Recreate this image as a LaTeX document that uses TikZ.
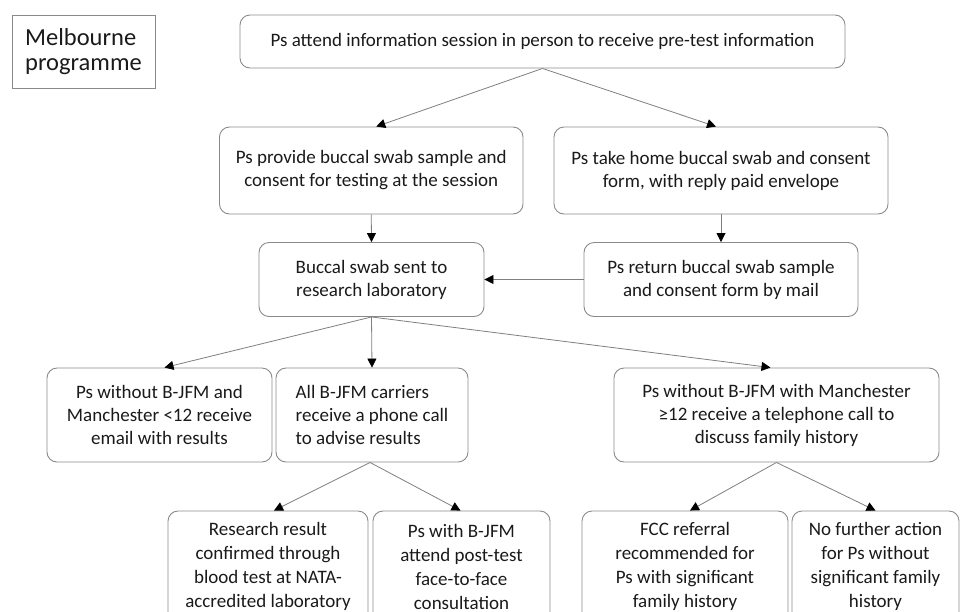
\documentclass[tikz,border=0pt]{standalone}
\usepackage{fontspec}
\setmainfont{Carlito}
\usetikzlibrary{arrows.meta}
\definecolor{bordergray}{HTML}{8A8A8A}
\definecolor{linegray}{HTML}{7F7F7F}
\definecolor{txt}{HTML}{1A1A1A}
\tikzset{
  box/.style={draw=bordergray, line width=0.9pt, rounded corners=10pt, inner sep=0pt,
    align=center, text=txt, font=\fontsize{19}{23}\selectfont},
  tallbox/.style={box, font=\fontsize{19}{24}\selectfont},
  titlebox/.style={draw=bordergray, line width=0.9pt, inner sep=0pt, align=left, text=txt,
    font=\fontsize{24.5}{25.5}\selectfont},
  conn/.style={draw=linegray, line width=0.8pt, -{Triangle[length=9pt,width=9pt,black]}},
}
\begin{document}
\begin{tikzpicture}[x=1pt,y=-1pt]
\useasboundingbox (0,0) rectangle (960,611);
\clip (0,0) rectangle (960,611);

\node[titlebox, minimum width=143pt, minimum height=73pt] (melb) at (83.5,51.5)
  {Melbourne\\programme};

\node[box, minimum width=605pt, minimum height=53pt] (top) at (542.5,41.5)
  {Ps attend information session in person to receive pre-test information};

\node[box, minimum width=303.5pt, minimum height=87pt] (provide) at (371.25,170.5)
  {Ps provide buccal swab sample and\\consent for testing at the session};
\node[box, minimum width=334pt, minimum height=87pt] (takehome) at (721,170.5)
  {Ps take home buccal swab and consent\\form, with reply paid envelope};

\node[box, minimum width=225pt, minimum height=74pt] (buccal) at (371.5,279.5)
  {Buccal swab sent to\\research laboratory};
\node[box, minimum width=274pt, minimum height=74pt] (return) at (721,279.5)
  {Ps return buccal swab sample\\and consent form by mail};

\node[box, minimum width=225pt, minimum height=94pt] (nobjfm) at (159.5,415)
  {Ps without B-JFM and\\Manchester <12 receive\\email with results};
\node[box, align=left, minimum width=192pt, minimum height=94pt] (carriers) at (372,415)
  {All B-JFM carriers\\receive a phone call\\to advise results};
\node[box, minimum width=325pt, minimum height=94pt] (manch) at (776.5,415)
  {Ps without B-JFM with Manchester\\≥12 receive a telephone call to\\discuss family history};

\node[tallbox, minimum width=200pt, minimum height=111pt] (research) at (268,566.5)
  {Research result\\confirmed through\\blood test at NATA-\\accredited laboratory};
\node[tallbox, minimum width=177pt, minimum height=111pt] (pswith) at (461.5,566.5)
  {Ps with B-JFM\\attend post-test\\face-to-face\\consultation};
\node[tallbox, minimum width=206pt, minimum height=111pt] (fcc) at (685,566.5)
  {FCC referral\\recommended for\\Ps with significant\\family history};
\node[tallbox, minimum width=167pt, minimum height=111pt] (nofurther) at (875.5,566.5)
  {No further action\\for Ps without\\significant family\\history};

\draw[conn] (top.south) -- ([xshift=5pt]provide.north);
\draw[conn] (top.south) -- ([xshift=-5pt]takehome.north);
\draw[conn] (provide.south) -- (buccal.north);
\draw[conn] (takehome.south) -- (return.north);
\draw[conn] (return.west) -- (buccal.east);
\draw[conn] (buccal.south) -- ([xshift=5pt]nobjfm.north);
\draw[conn] (buccal.south) -- (carriers.north);
\draw[conn] (buccal.south) -- ([xshift=-6pt]manch.north);
\draw[conn] ([xshift=-2pt]carriers.south) -- ([xshift=6pt]research.north);
\draw[conn] ([xshift=-2pt]carriers.south) -- ([xshift=-1pt]pswith.north);
\draw[conn] (manch.south) -- ([xshift=5pt]fcc.north);
\draw[conn] (manch.south) -- (nofurther.north);
\end{tikzpicture}
\end{document}
